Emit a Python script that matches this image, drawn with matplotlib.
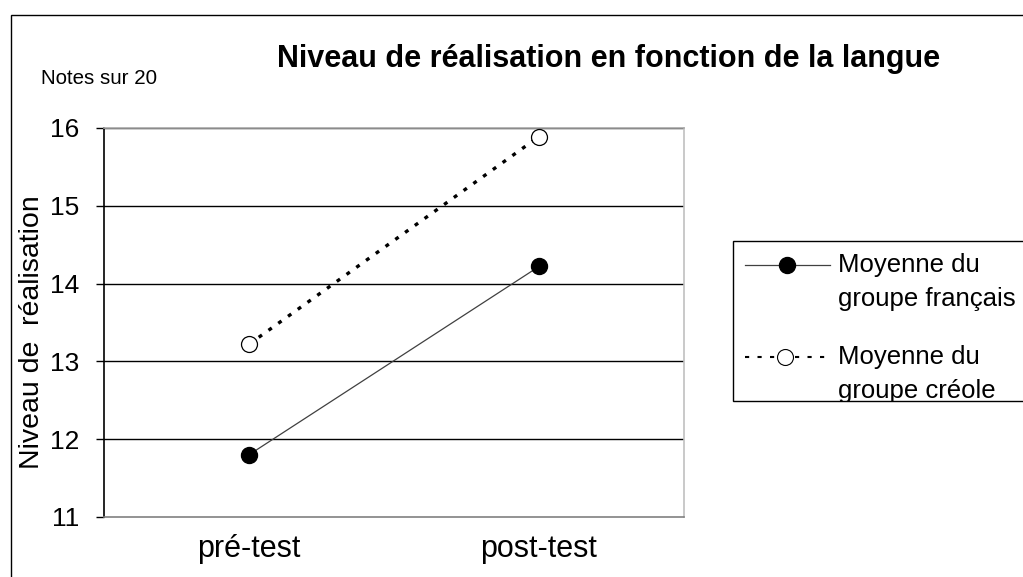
import matplotlib
matplotlib.use("Agg")
import matplotlib.pyplot as plt
from matplotlib.lines import Line2D
from matplotlib.patches import Rectangle

plt.rcParams['font.family'] = ['Liberation Sans', 'DejaVu Sans']

# data
categories = ['pré-test', 'post-test']
francais = [11.8, 14.22]
creole = [13.22, 15.89]
yticks = [11, 12, 13, 14, 15, 16]
legend_labels = ['Moyenne du\ngroupe français', 'Moyenne du\ngroupe créole']

W, H = 1023, 577
fig = plt.figure(figsize=(W / 100, H / 100), dpi=100)


def fx(x):
    return x / W


def fy(y):
    return 1 - y / H


# outer frame, runs off the right and bottom edges
fig.add_artist(Rectangle((fx(11), fy(600)), fx(1100), fy(15) - fy(600),
                         transform=fig.transFigure, fill=False,
                         edgecolor='black', lw=1))

ax = fig.add_axes([fx(104), fy(517), fx(684) - fx(104), fy(128) - fy(517)])
x = list(range(len(categories)))

for yv in yticks[1:]:
    ax.axhline(yv, color='black', lw=1, zorder=1)

ax.plot(x, francais, color='#404040', lw=0.9, marker='o', markersize=11.5,
        markerfacecolor='black', markeredgecolor='black', zorder=3)
ax.plot(x, creole, color='black', lw=2.4, linestyle=(0, (1.2, 2.4)),
        marker='o', markersize=11.5, markerfacecolor='white',
        markeredgecolor='black', markeredgewidth=0.9, zorder=3)

ax.set_xlim(-0.5, 1.5)
ax.set_ylim(11, 16)
ax.set_yticks(yticks)
ax.set_xticks(x)
ax.set_xticklabels(categories, fontsize=22)
ax.tick_params(axis='x', length=0, pad=12)
ax.tick_params(axis='y', length=6, width=1, labelsize=19, pad=12)
ax.spines['left'].set_color('black')
ax.spines['top'].set_color('#a8a8a8')
ax.spines['right'].set_color('#c0c0c0')
ax.spines['bottom'].set_color('#808080')
for s in ax.spines.values():
    s.set_linewidth(1.2)

fig.text(fx(609), fy(59), 'Niveau de réalisation en fonction de la langue',
         fontsize=22, fontweight='bold', ha='center', va='center')
fig.text(fx(41), fy(78), 'Notes sur 20', fontsize=14.8, ha='left',
         va='center')
fig.text(fx(32), fy(332), 'Niveau de  réalisation', fontsize=20.5,
         rotation=90, ha='center', va='center')

# legend box, clipped on the right and bottom
box = Rectangle((fx(733), fy(401)), fx(400), fy(241) - fy(401),
                transform=fig.transFigure, fill=True, facecolor='white',
                edgecolor='black', lw=1)
fig.add_artist(box)

fig.add_artist(Line2D([fx(745), fx(830)], [fy(265), fy(265)],
                      transform=fig.transFigure, color='#404040', lw=0.9))
fig.add_artist(Line2D([fx(787)], [fy(265)], transform=fig.transFigure,
                      marker='o', markersize=11.5, color='black'))
fig.add_artist(Line2D([fx(745), fx(828)], [fy(357), fy(357)],
                      transform=fig.transFigure, color='black', lw=1.5,
                      linestyle=(0, (2, 4))))
fig.add_artist(Line2D([fx(785)], [fy(357)], transform=fig.transFigure,
                      marker='o', markersize=11.5, markerfacecolor='white',
                      markeredgecolor='black', markeredgewidth=0.8,
                      linestyle='none'))

for lab, yy in zip(legend_labels, [282, 374]):
    t = fig.text(fx(838), fy(yy), lab, fontsize=18.5, ha='left', va='center',
                 linespacing=1.5)
    t.set_clip_path(box)

fig.savefig('out.png', dpi=100)
